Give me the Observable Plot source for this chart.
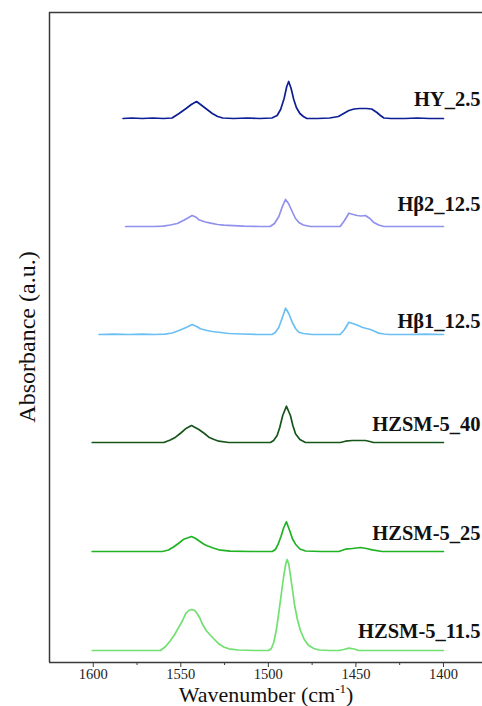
<!DOCTYPE html>
<html><head><meta charset="utf-8">
<script src="https://cdn.jsdelivr.net/npm/d3@7"></script>
<script src="https://cdn.jsdelivr.net/npm/@observablehq/plot@0.6"></script>
<style>
body{margin:0;background:#fff;}
svg{display:block}
</style>
</head><body><div id="chart"></div>
<script>
// Sample names (top to bottom), colours, vertical offsets and label heights (a.u.)
const names = ["HY_2.5", "Hβ2_12.5", "Hβ1_12.5", "HZSM-5_40", "HZSM-5_25", "HZSM-5_11.5"];
const colors = ["#0d1f94", "#9090ee", "#6cbff2", "#16561a", "#1fb223", "#70e070"];
const offsets = [544, 436, 328, 220, 111, 12];
const labelY = [563, 458, 341, 238, 129, 31];
const majorTicks = [1600, 1550, 1500, 1450, 1400];
const minorTicks = [1575, 1525, 1475, 1425];

// Spectra: wavenumber (cm-1) and absorbance above baseline (a.u.)
const hy_wn = [1583,1578,1572,1566,1560,1555,1551,1547,1544,1541,1538,1535,1532,1529,1526,1520,1512,1505,1498,1495,1493,1491,1489.5,1488.4,1487,1485.5,1484,1482,1480,1478,1472,1465,1460,1457,1454,1451,1448,1444,1441,1438,1436,1434,1430,1422,1415,1408,1400];
const hy_abs = [0,0.5,0,0.5,0,0.5,5,10,14,17,13,9,5,2,0.5,0,0.5,0,0.5,3,9,20,32,37,30,19,11,5,2,0,0,0.5,2,5,8,9.5,10,10,9.5,6,3,0.5,0,0,0.5,0,0];

const hb2_wn = [1581.5,1572,1565,1560,1556,1552,1548,1543.5,1541,1539.7,1536,1533,1529,1525.5,1520,1514,1505,1499,1496.5,1494,1492,1490.2,1488.5,1486.4,1484.5,1482.6,1480,1476,1468,1459,1456.5,1454,1451.5,1449.3,1447,1444.6,1442,1440,1437,1434,1425,1412,1400];
const hb2_abs = [0,0,0,0.3,1.5,3,6.5,11,9,6.7,4.5,3.3,2,1.3,0.8,0.3,0,0,3,10,20,27,23,15,8,4,1.5,0,0,0,6,13.3,12,11,10.5,11,8,4.3,1.5,0,0,0,0];

const hb1_wn = [1596.8,1588,1580,1572,1565,1559,1555,1551,1547,1543.5,1541,1538.8,1535,1532,1527,1522.6,1515,1506,1498,1496,1494,1492,1490.2,1488.3,1486.4,1484.5,1482.6,1480,1475,1466,1459,1456.5,1454,1451,1448,1446.5,1444,1441.7,1439,1437,1434,1431,1420,1410,1400];
const hb1_abs = [0,0.3,0,0.3,0,0.3,1.5,4,7,10,8,5.7,4,3,2,1,0.5,0,0,2,7.3,17,26.3,21,12.3,6,2.3,1,0,0,0,5,12.3,10.5,8.5,7.3,6,5,3,1.3,0.5,0,0,0.3,0];

const z40_wn = [1600.6,1590,1580,1570,1559.7,1556,1553,1550,1547.3,1543.9,1539.7,1536.5,1534,1531,1528.3,1522.6,1510,1498.8,1497,1495,1493.5,1491.8,1489.7,1487.4,1486,1484.5,1482,1478.8,1470,1458.9,1456,1452,1448,1444.6,1442,1440,1430,1415,1400];
const z40_abs = [0,0,0,0,0,2.5,5.3,9.5,13.7,17,13,9,5.3,3,1.3,0,0,0,2,7,15,27,36.3,27,17,8.7,3,0,0,0,1.3,2,2,2,1,0,0,0,0];

const z25_wn = [1600.6,1590,1580,1570,1560.6,1557,1554,1551,1548.3,1543.9,1541.5,1539.7,1537,1535,1531.5,1528.3,1522,1510,1497.8,1496,1494.4,1492.8,1491.2,1489.7,1487.8,1486.2,1484.5,1482,1478.8,1470,1459.8,1456,1452,1447.4,1444,1440.7,1435,1425,1412,1400];
const z25_abs = [0,0,0,0,0,1.5,4.7,8.5,12.3,15,13,10.7,7.5,5.7,3.5,1.7,0.3,0,0,2,7.3,15,24,29.7,20.7,12.5,7.3,2.5,0.5,0,0,2.3,3,4,3,1.7,0,0,0,0];

const z115_wn = [1600.6,1590,1580,1570,1561.6,1558.7,1555.9,1553.5,1551.1,1549,1547.3,1545.5,1543.9,1542,1540.6,1539,1537.8,1535.5,1533,1530.5,1528.3,1525.5,1522.6,1517,1508,1499.8,1498.3,1496.9,1495.5,1494,1492.5,1491.2,1490,1489.3,1488.4,1487.4,1486,1485,1483.4,1481.7,1479.5,1477,1474,1471,1465,1459.8,1457,1454,1451,1448.4,1440,1430,1415,1400];
const z115_abs = [0,0,0,0,0,4,10,16,23.3,30,36.7,40,41,40,36.7,32,26.7,20,15,10.5,6.7,3.5,1.7,0.5,0,0,2,8.3,20,38.3,58,75,87,91,87,75,58,45,31,20,11,5,2,0.5,0,0,1,2.3,1.5,0,0,0,0,0];

const spectra = [
  [hy_wn, hy_abs], [hb2_wn, hb2_abs], [hb1_wn, hb1_abs],
  [z40_wn, z40_abs], [z25_wn, z25_abs], [z115_wn, z115_abs]
];

const rows = [];
spectra.forEach(([wn, ab], i) => wn.forEach((w, j) => rows.push({name: names[i], wn: w, a: ab[j] + offsets[i]})));
const labels = names.map((n, i) => ({name: n, y: labelY[i]}));

const serif = "Liberation Serif, DejaVu Serif, serif";
const axisColor = "#3a3a3a";
const chart = Plot.plot({
  width: 482, height: 706,
  marginLeft: 49, marginRight: 0, marginTop: 12, marginBottom: 44,
  style: {background: "#fff", color: "#111"},
  x: {domain: [1625, 1377.7]},
  y: {domain: [0, 650], axis: null},
  color: {domain: names, range: colors},
  marks: [
    Plot.ruleX([1625], {stroke: axisColor, strokeWidth: 1.5}),
    Plot.ruleY([0, 650], {stroke: axisColor, strokeWidth: 1.5}),
    Plot.axisX({ticks: majorTicks, tickSize: 5, tickPadding: 1.5, tickFormat: d => String(d), fontSize: 14.5, label: null, stroke: axisColor, fill: "#222"}),
    Plot.axisX({ticks: minorTicks, tickSize: 3, text: null, label: null, stroke: axisColor}),
    Plot.line(rows, {x: "wn", y: "a", z: "name", stroke: "name", strokeWidth: 1.7, curve: "linear"}),
    Plot.text(labels, {y: "y", text: "name", frameAnchor: "right", textAnchor: "end", dx: -2, fontWeight: "bold", fontSize: 20.5, fill: "#111"})
  ]
});
document.getElementById("chart").append(chart);

const svg = d3.select(chart);
svg.attr("font-family", serif).style("font-family", serif);
svg.selectAll("g").attr("font-family", null);
svg.selectAll("text").style("font-family", serif);
const xt = svg.append("text")
  .attr("x", 266).attr("y", 701.5)
  .attr("text-anchor", "middle")
  .style("font-family", serif)
  .attr("font-size", 22).attr("fill", "#111");
xt.append("tspan").text("Wavenumber (cm");
xt.append("tspan").attr("font-size", 13).attr("dy", -9).text("-1");
xt.append("tspan").attr("dy", 9).text(")");
svg.append("text")
  .attr("transform", "translate(27,337) rotate(-90)")
  .attr("text-anchor", "middle").attr("dy", "0.35em")
  .style("font-family", serif)
  .attr("font-size", 24).attr("fill", "#111")
  .text("Absorbance (a.u.)");
</script>
</body></html>
